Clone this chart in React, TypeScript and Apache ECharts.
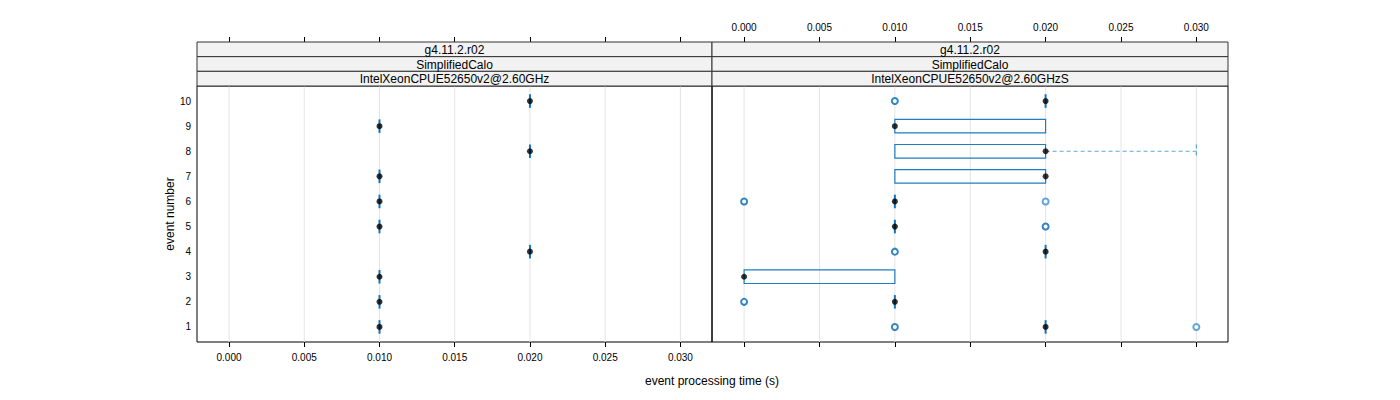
import React, { useEffect, useRef } from "react";
import * as echarts from "echarts";

// ---- data ----
const events = [1, 2, 3, 4, 5, 6, 7, 8, 9, 10];
const xTicks = [0, 0.005, 0.01, 0.015, 0.02, 0.025, 0.03];
const xTickLabels = ["0.000", "0.005", "0.010", "0.015", "0.020", "0.025", "0.030"];
const stripRow1 = ["g4.11.2.r02", "g4.11.2.r02"];
const stripRow2 = ["SimplifiedCalo", "SimplifiedCalo"];
const stripRow3 = ["IntelXeonCPUE52650v2@2.60GHz", "IntelXeonCPUE52650v2@2.60GHzS"];

// left panel (events 1..10)
const leftMedian = [0.01, 0.01, 0.01, 0.02, 0.01, 0.01, 0.01, 0.02, 0.01, 0.02];
const leftQ1 = [0.01, 0.01, 0.01, 0.02, 0.01, 0.01, 0.01, 0.02, 0.01, 0.02];
const leftQ3 = [0.01, 0.01, 0.01, 0.02, 0.01, 0.01, 0.01, 0.02, 0.01, 0.02];
const leftLo = [0.01, 0.01, 0.01, 0.02, 0.01, 0.01, 0.01, 0.02, 0.01, 0.02];
const leftHi = [0.01, 0.01, 0.01, 0.02, 0.01, 0.01, 0.01, 0.02, 0.01, 0.02];
const leftOutliersMulti: [number, number][] = [];
const leftOutliersSingle: [number, number][] = [];

// right panel (events 1..10)
const rightMedian = [0.02, 0.01, 0.0, 0.02, 0.01, 0.01, 0.02, 0.02, 0.01, 0.02];
const rightQ1 = [0.02, 0.01, 0.0, 0.02, 0.01, 0.01, 0.01, 0.01, 0.01, 0.02];
const rightQ3 = [0.02, 0.01, 0.01, 0.02, 0.01, 0.01, 0.02, 0.02, 0.02, 0.02];
const rightLo = [0.02, 0.01, 0.0, 0.02, 0.01, 0.01, 0.01, 0.01, 0.01, 0.02];
const rightHi = [0.02, 0.01, 0.01, 0.02, 0.01, 0.01, 0.02, 0.03, 0.02, 0.02];
// [value, event]
const rightOutliersMulti: [number, number][] = [
  [0.01, 1], [0.0, 2], [0.01, 4], [0.02, 5], [0.0, 6], [0.01, 10],
];
const rightOutliersSingle: [number, number][] = [[0.03, 1], [0.02, 6]];

// ---- styling ----
const BLUE = "#1f7dc2";
const FONT = "'Liberation Sans', Arial, Helvetica, sans-serif";
const X_MIN = -0.00213;
const X_MAX = 0.0321;
const Y_MIN = 0.4;
const Y_MAX = 10.6;
const BOX_HALF = 0.27;

const PANEL_TOP = 86;
const PANEL_H = 256;
const STRIP_TOP = 42;
const STRIP_ROW_H = (PANEL_TOP - STRIP_TOP) / 3;
const PANELS = [
  { left: 197, width: 515 },
  { left: 712, width: 516 },
];

function boxRenderItem(params: any, api: any) {
  const ev = api.value(0);
  const q1 = api.value(1);
  const q3 = api.value(2);
  const lo = api.value(3);
  const hi = api.value(4);
  const p1 = api.coord([q1, ev]);
  const p3 = api.coord([q3, ev]);
  const pl = api.coord([lo, ev]);
  const ph = api.coord([hi, ev]);
  const h = api.size([0, BOX_HALF])[1];
  const y = p1[1];
  const children: any[] = [];
  const dashStyle = { stroke: "#5ea6da", lineWidth: 1.2, lineDash: [4, 3], fill: null };
  if (lo < q1) {
    children.push({ type: "line", shape: { x1: pl[0], y1: y, x2: p1[0], y2: y }, style: dashStyle });
    children.push({ type: "line", shape: { x1: pl[0], y1: y - h, x2: pl[0], y2: y + h }, style: dashStyle });
  }
  if (hi > q3) {
    children.push({ type: "line", shape: { x1: p3[0], y1: y, x2: ph[0], y2: y }, style: dashStyle });
    children.push({ type: "line", shape: { x1: ph[0], y1: y - h, x2: ph[0], y2: y + h }, style: dashStyle });
  }
  if (q3 > q1) {
    children.push({
      type: "polygon",
      shape: {
        points: [
          [p1[0], y - h],
          [p3[0], y - h],
          [p3[0], y + h],
          [p1[0], y + h],
        ],
      },
      style: { stroke: BLUE, lineWidth: 1.2, fill: null },
    });
  } else {
    children.push({
      type: "line",
      shape: { x1: p1[0], y1: y - h, x2: p1[0], y2: y + h },
      style: { stroke: "#1273bd", lineWidth: 2 },
    });
  }
  return { type: "group", children };
}

function gridLineRenderItem(params: any, api: any) {
  const v = api.value(0);
  const a = api.coord([v, Y_MIN]);
  const b = api.coord([v, Y_MAX]);
  return {
    type: "line",
    shape: { x1: a[0], y1: a[1], x2: b[0], y2: b[1] },
    style: { stroke: "#e4e4e4", lineWidth: 1 },
  };
}

function panelSeries(
  gi: number,
  median: number[],
  q1: number[],
  q3: number[],
  lo: number[],
  hi: number[],
  outMulti: [number, number][],
  outSingle: [number, number][]
) {
  const xi = gi * 2;
  return [
    {
      type: "custom",
      xAxisIndex: xi,
      yAxisIndex: gi,
      z: 1,
      silent: true,
      renderItem: gridLineRenderItem,
      data: xTicks.map((v) => [v]),
    },
    {
      type: "custom",
      xAxisIndex: xi,
      yAxisIndex: gi,
      z: 2,
      silent: true,
      renderItem: boxRenderItem,
      data: events.map((e, i) => [e, q1[i], q3[i], lo[i], hi[i]]),
    },
    {
      type: "scatter",
      xAxisIndex: xi,
      yAxisIndex: gi,
      z: 3,
      symbol: "emptyCircle",
      symbolSize: 6,
      itemStyle: { color: "#0068b0", borderColor: "#0068b0", borderWidth: 2 },
      data: outMulti,
    },
    {
      type: "scatter",
      xAxisIndex: xi,
      yAxisIndex: gi,
      z: 3,
      symbol: "emptyCircle",
      symbolSize: 6,
      itemStyle: { color: "#3d8fcc", borderColor: "#3d8fcc", borderWidth: 1.1 },
      data: outSingle,
    },
    {
      type: "scatter",
      xAxisIndex: xi,
      yAxisIndex: gi,
      z: 4,
      symbol: "circle",
      symbolSize: 6,
      itemStyle: { color: "#000" },
      data: events.map((e, i) => [median[i], e]),
    },
  ];
}

function makeXAxis(gi: number, position: "top" | "bottom", showLabels: boolean) {
  return {
    type: "value",
    gridIndex: gi,
    position,
    offset: position === "top" ? PANEL_TOP - STRIP_TOP : 0,
    min: X_MIN,
    max: X_MAX,
    axisLine: { show: false },
    splitLine: { show: false },
    axisTick: {
      show: true,
      inside: false,
      length: 5,
      customValues: xTicks,
      lineStyle: { color: "#000", width: 1 },
    },
    axisLabel: {
      show: showLabels,
      customValues: xTicks,
      margin: 10,
      fontSize: 10,
      fontFamily: FONT,
      color: "#000",
      formatter: (v: number) => {
        const i = xTicks.findIndex((t) => Math.abs(t - v) < 1e-9);
        return i >= 0 ? xTickLabels[i] : "";
      },
    },
  };
}

function makeYAxis(gi: number, showLabels: boolean) {
  return {
    type: "value",
    gridIndex: gi,
    min: Y_MIN,
    max: Y_MAX,
    axisLine: { show: false },
    splitLine: { show: false },
    axisTick: { show: false },
    axisLabel: {
      show: showLabels,
      customValues: events,
      margin: 6,
      fontSize: 10,
      fontFamily: FONT,
      color: "#000",
      formatter: (v: number) => String(Math.round(v)),
    },
  };
}

function stripGraphics() {
  const out: any[] = [];
  const rows = [stripRow1, stripRow2, stripRow3];
  PANELS.forEach((p, pi) => {
    rows.forEach((row, ri) => {
      const y = STRIP_TOP + ri * STRIP_ROW_H;
      out.push({
        type: "rect",
        shape: { x: p.left, y, width: p.width, height: STRIP_ROW_H },
        style: { fill: "#f2f2f2", stroke: "#333", lineWidth: 1 },
        z: 10,
      });
      out.push({
        type: "text",
        x: p.left + p.width / 2,
        y: y + STRIP_ROW_H / 2 + 0.5,
        style: {
          text: row[pi],
          fill: "#000",
          font: `12px ${FONT}`,
          align: "center",
          verticalAlign: "middle",
        },
        z: 11,
      });
    });
  });
  out.push({
    type: "text",
    x: 712,
    y: 381,
    style: {
      text: "event processing time (s)",
      fill: "#000",
      font: `12px ${FONT}`,
      align: "center",
      verticalAlign: "middle",
    },
  });
  out.push({
    type: "text",
    x: 170,
    y: 214,
    rotation: Math.PI / 2,
    style: {
      text: "event number",
      fill: "#000",
      font: `12px ${FONT}`,
      align: "center",
      verticalAlign: "middle",
    },
  });
  return out;
}

export default function App() {
  const ref = useRef<HTMLDivElement>(null);
  useEffect(() => {
    document.body.style.margin = "0";
    if (!ref.current) return;
    const chart = echarts.init(ref.current, null, { renderer: "svg" });
    chart.setOption({
      animation: false,
      backgroundColor: "#fff",
      grid: PANELS.map((p) => ({
        left: p.left,
        width: p.width,
        top: PANEL_TOP,
        height: PANEL_H,
        show: true,
        backgroundColor: "transparent",
        borderColor: "#000",
        borderWidth: 1,
      })),
      xAxis: [
        makeXAxis(0, "bottom", true),
        makeXAxis(0, "top", false),
        makeXAxis(1, "bottom", false),
        makeXAxis(1, "top", true),
      ],
      yAxis: [makeYAxis(0, true), makeYAxis(1, false)],
      series: [
        ...panelSeries(0, leftMedian, leftQ1, leftQ3, leftLo, leftHi, leftOutliersMulti, leftOutliersSingle),
        ...panelSeries(1, rightMedian, rightQ1, rightQ3, rightLo, rightHi, rightOutliersMulti, rightOutliersSingle),
      ],
      graphic: stripGraphics(),
    });
    return () => chart.dispose();
  }, []);
  return <div ref={ref} style={{ width: 1400, height: 400 }} />;
}
